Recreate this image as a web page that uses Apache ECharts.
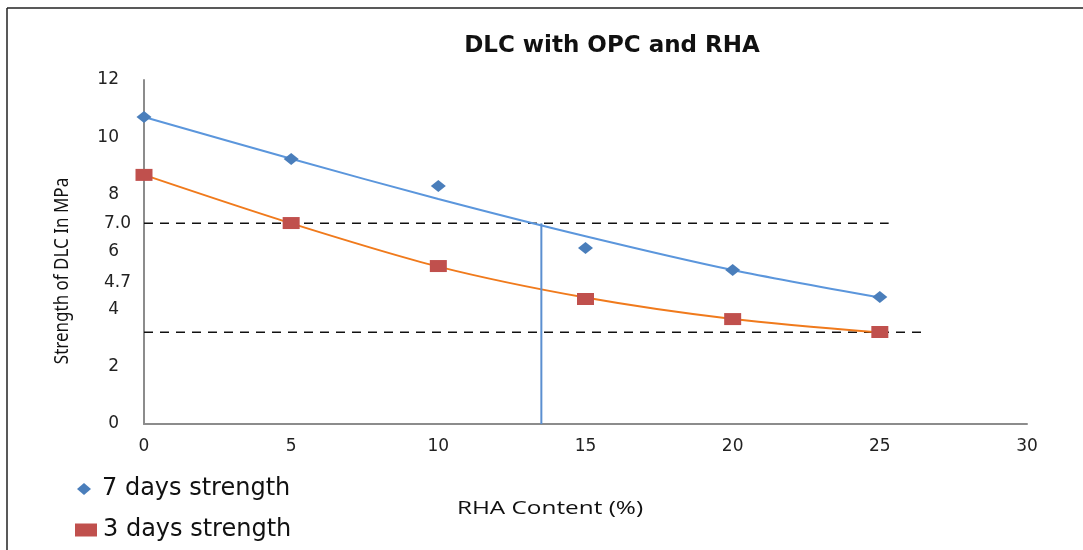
<!DOCTYPE html>
<html>
<head>
<meta charset="utf-8">
<script src="https://cdn.jsdelivr.net/npm/echarts@6/dist/echarts.min.js"></script>
<style>
html,body{margin:0;padding:0;background:#fff;}
#chart{width:1083px;height:550px;}
</style>
</head>
<body>
<div id="chart"></div>
<script>
// ---- data ----
const rhaContent = [0, 5, 10, 15, 20, 25];
const strength7 = [10.71, 9.24, 8.30, 6.14, 5.37, 4.43];
const strength3 = [8.69, 7.01, 5.51, 4.36, 3.66, 3.21];
// trend lines
const trend7 = [10.71, 9.25, 7.85, 6.55, 5.37, 4.41];
const trend3 = [8.69, 7.00, 5.49, 4.41, 3.66, 3.19];
// annotations
const refLineUpper = {y: 7.0, xEnd: 25.3, label: '7.0'};
const refLineLower = {y: 3.2, xEnd: 26.4};
const extraLabel = {y: 4.95, label: '4.7'};
const verticalLine = {x: 13.5, yFrom: 0, yTo: 7.0};
const xTicks = {min: 0, max: 30, interval: 5};
const yTicks = {min: 0, max: 12, interval: 2};
const seriesNames = ['7 days strength', '3 days strength'];
const titleText = 'DLC with OPC and RHA';
const xName = 'RHA Content (%)';
const yName = 'Strength of DLC In MPa';

const pair = (xs, ys) => xs.map((x, i) => [x, ys[i]]);

const chart = echarts.init(document.getElementById('chart'), null, {renderer: 'canvas'});
const numFont = 'DejaVu Sans';
const option = {
  animation: false,
  backgroundColor: '#fff',
  title: {
    text: titleText, left: 607, top: 30, textAlign: 'center',
    textStyle: {fontFamily: 'DejaVu Sans', fontWeight: 'bold', fontSize: 23, color: '#111'}
  },
  grid: {left: 144, right: 56, top: 80, bottom: 126},
  xAxis: {
    type: 'value', min: xTicks.min, max: xTicks.max, interval: xTicks.interval,
    axisLine: {lineStyle: {color: '#8c8c8c', width: 2}},
    axisTick: {show: false}, splitLine: {show: false},
    axisLabel: {fontFamily: numFont, fontSize: 17, color: '#222', margin: 14}
  },
  yAxis: {
    type: 'value', min: yTicks.min, max: yTicks.max, interval: yTicks.interval,
    axisLine: {show: true, lineStyle: {color: '#8c8c8c', width: 2}},
    axisTick: {show: false}, splitLine: {show: false},
    axisLabel: {fontFamily: numFont, fontSize: 17, color: '#222', margin: 25}
  },
  legend: [
    {
      orient: 'vertical', left: 77, top: 477, padding: 0,
      itemWidth: 14, itemHeight: 12,
      data: [{name: seriesNames[0], icon: 'diamond'}],
      textStyle: {fontFamily: 'DejaVu Sans', fontSize: 24, color: '#111', padding: [0, 0, 0, 6]}
    },
    {
      orient: 'vertical', left: 75, top: 518, padding: 0,
      itemWidth: 22, itemHeight: 13,
      data: [{name: seriesNames[1], icon: 'rect'}],
      textStyle: {fontFamily: 'DejaVu Sans', fontSize: 24, color: '#111', padding: [0, 0, 0, 1]}
    }
  ],
  series: [
    {
      type: 'line', name: 'trend7', data: pair(rhaContent, trend7), smooth: 0.3,
      showSymbol: false, lineStyle: {color: '#5b96dc', width: 2}, z: 2, silent: true
    },
    {
      type: 'line', name: 'trend3', data: pair(rhaContent, trend3), smooth: 0.3,
      showSymbol: false, lineStyle: {color: '#f07a1c', width: 2}, z: 2, silent: true
    },
    {
      type: 'line', name: 'upperRef', data: [[0, refLineUpper.y], [refLineUpper.xEnd, refLineUpper.y]],
      showSymbol: false, lineStyle: {color: '#111', width: 1.5, type: [9, 7]}, z: 1, silent: true
    },
    {
      type: 'line', name: 'lowerRef', data: [[0, refLineLower.y], [refLineLower.xEnd, refLineLower.y]],
      showSymbol: false, lineStyle: {color: '#111', width: 1.5, type: [9, 7]}, z: 1, silent: true
    },
    {
      type: 'line', name: 'vertical', data: [[verticalLine.x, verticalLine.yFrom], [verticalLine.x, verticalLine.yTo]],
      showSymbol: false, lineStyle: {color: '#5b8fd0', width: 2}, z: 3, silent: true
    },
    {
      type: 'scatter', name: seriesNames[0], data: pair(rhaContent, strength7),
      symbol: 'diamond', symbolSize: [15, 12], itemStyle: {color: '#4a7ebb', opacity: 1}, z: 5
    },
    {
      type: 'scatter', name: seriesNames[1], data: pair(rhaContent, strength3),
      symbol: 'rect', symbolSize: [17, 12], itemStyle: {color: '#c0504d', opacity: 1}, z: 5
    }
  ],
  graphic: [
    {type: 'line', shape: {x1: 7, y1: 8, x2: 1083, y2: 8}, style: {stroke: '#222', lineWidth: 1.5}},
    {type: 'line', shape: {x1: 7, y1: 8, x2: 7, y2: 550}, style: {stroke: '#222', lineWidth: 1.5}},
    {
      type: 'text', x: 62, y: 271, rotation: Math.PI / 2, scaleX: 0.85,
      style: {text: yName, fontFamily: 'Noto Sans', fontSize: 20, fill: '#111', textAlign: 'center', textVerticalAlign: 'middle'}
    },
    {
      type: 'text', x: 550, y: 509, scaleX: 1.28,
      style: {text: xName, fontFamily: 'Open Sans', fontSize: 19, fill: '#111', textAlign: 'center', textVerticalAlign: 'middle'}
    }
  ]
};
chart.setOption(option);

// extra value labels next to the y axis, positioned through the chart's own scale
const extraTexts = [refLineUpper, extraLabel].map(item => {
  const p = chart.convertToPixel({gridIndex: 0}, [0, item.y]);
  return {
    type: 'text', x: p[0] - 13, y: p[1],
    style: {text: item.label, fontFamily: numFont, fontSize: 17, fill: '#222', textAlign: 'right', textVerticalAlign: 'middle'}
  };
});
chart.setOption({graphic: option.graphic.concat(extraTexts)});
</script>
</body>
</html>
